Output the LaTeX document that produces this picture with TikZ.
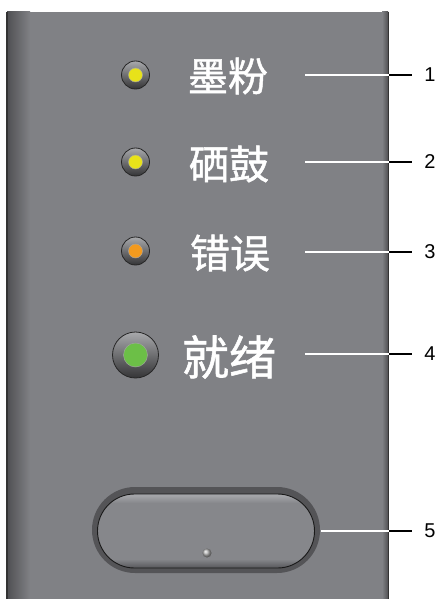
\documentclass[tikz,border=0pt]{standalone}
\usepackage{fontspec}
\setmainfont{Liberation Sans}
\newfontfamily\cjk[FakeBold=1.2]{Noto Sans CJK SC}
\usetikzlibrary{positioning, calc}

\begin{document}
\begin{tikzpicture}[x=1pt, y=-1pt]

\definecolor{panel}{HTML}{808185}
\definecolor{paneldark}{HTML}{505053}
\definecolor{ringtop}{HTML}{A8A9AC}
\definecolor{ringbot}{HTML}{343436}
\definecolor{ledyellow}{HTML}{E8E21A}
\definecolor{ledorange}{HTML}{F39A1E}
\definecolor{ledgreen}{HTML}{6CBF47}
\definecolor{rim}{HTML}{545457}
\definecolor{btntop}{HTML}{A4A5A9}
\definecolor{btnmid}{HTML}{86878B}
\definecolor{btnbot}{HTML}{56565A}

\pgfdeclareverticalshading{btnshade}{100bp}{color(0bp)=(btnbot); color(25bp)=(btnbot); color(31bp)=(btnmid); color(69bp)=(btnmid); color(74bp)=(btntop); color(100bp)=(btntop)}

\tikzset{
  ledring/.style={circle, draw=black!85, line width=0.8pt, top color=ringtop, bottom color=ringbot, inner sep=0pt, minimum size=#1},
  ledlamp/.style={circle, draw=black!35, line width=0.4pt, inner sep=0pt, minimum size=#1},
  tag/.style={font=\cjk\fontsize{40}{40}\selectfont, text=white, inner sep=0pt},
  bigtag/.style={font=\cjk\fontsize{47}{47}\selectfont, text=white, inner sep=0pt},
  num/.style={font=\fontsize{20}{20}\selectfont, inner sep=0pt},
  lead/.style={line width=1.3pt, black},
  leadin/.style={line width=0.8pt, draw=black, double=white, double distance=1.2pt}
}

\useasboundingbox (0,0) rectangle (441,599);

%panel
\fill[panel] (7,12) rectangle (389,599);
\shade[left color=paneldark, right color=panel] (7,12) rectangle (30,599);
\shade[left color=panel, right color=paneldark] (382,12) rectangle (388,599);
\draw[line width=1.6pt, black!80] (7,12) -- (7,599);
\draw[line width=1.6pt, black!80] (388.5,12) -- (388.5,599);
\coordinate (pr) at (388.5,0);

%lamps
\node[ledring=28pt] (toner) at (135.5,75) {};
\node[ledlamp=14pt, fill=ledyellow] (tonerlamp) at (toner) {};
\node[ledring=28pt] (drum) at (135.5,162) {};
\node[ledlamp=14pt, fill=ledyellow] (drumlamp) at (drum) {};
\node[ledring=28pt] (error) at (135.5,251) {};
\node[ledlamp=14pt, fill=ledorange] (errorlamp) at (error) {};
\node[ledring=46pt] (ready) at (135.5,355) {};
\node[ledlamp=24pt, fill=ledgreen] (readylamp) at (ready) {};

\node[tag] (tonertag) at (228,76) {墨粉};
\node[tag] (drumtag) at (229,164) {硒鼓};
\node[tag] (errortag) at (230,253) {错误};
\node[bigtag] (readytag) at (229,357) {就绪};

%go button
\node[fill=rim, rounded corners=43pt, minimum width=228pt, minimum height=86pt, inner sep=0pt] (btnrim) at (206,530) {};
\node[draw=black!90, line width=0.9pt, shading=btnshade, rounded corners=37pt, minimum width=217pt, minimum height=74pt, inner sep=0pt] (btn) at (206,531) {};
\node[circle, ball color=black!30, inner sep=0pt, minimum size=9pt] (btndot) at (207,553) {};

%callouts
\foreach \x/\y/\n in {305/75/1, 305/162/2, 305/252/3, 305/354/4, 321/531/5} {
  \coordinate (l\n) at (\x,\y);
  \node[num] (n\n) at (430,\y) {\n};
  \draw[lead] (l\n) -- ([xshift=-12pt]n\n.west);
  \draw[leadin] (l\n) -- (l\n -| pr);
}
\end{tikzpicture}
\end{document}
